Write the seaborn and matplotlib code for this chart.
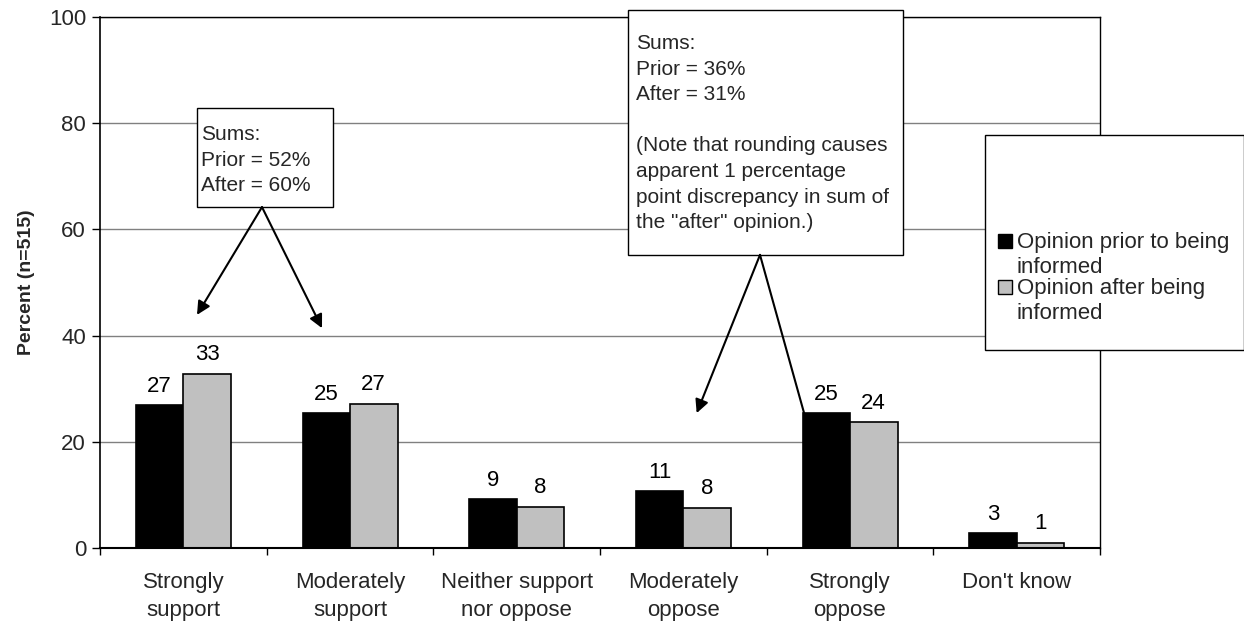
import matplotlib
matplotlib.use("Agg")
import matplotlib.pyplot as plt
import seaborn as sns
import pandas as pd
import numpy as np
from matplotlib.patches import Rectangle

categories = ["Strongly\nsupport", "Moderately\nsupport", "Neither support\nnor oppose",
              "Moderately\noppose", "Strongly\noppose", "Don't know"]
prior_vals = [26.9, 25.4, 9.2, 10.7, 25.4, 2.8]
after_vals = [32.8, 27.2, 7.8, 7.6, 23.7, 1.0]
series_names = ["Opinion prior to being\ninformed", "Opinion after being\ninformed"]
series_colors = ["#000000", "#c0c0c0"]
yticks = [0, 20, 40, 60, 80, 100]

df = pd.DataFrame({
    "category": categories * 2,
    "value": prior_vals + after_vals,
    "series": [series_names[0]] * len(categories) + [series_names[1]] * len(categories),
})

sns.set_theme(style="white")
plt.rcParams["font.family"] = ["Liberation Sans", "DejaVu Sans"]
FS = 16      # axis texts, value labels, legend
FSB = 15     # annotation boxes

W, H = 1244, 624
fig = plt.figure(figsize=(W / 100, H / 100), dpi=100)
ax = fig.add_axes([100 / W, 1 - 548 / H, 1000 / W, (548 - 17) / H])

def fx(px):
    return px / W

def fy(py):
    return 1 - py / H

sns.barplot(data=df, x="category", y="value", hue="series",
            palette=series_colors, edgecolor="black", linewidth=1.2,
            width=0.57, ax=ax, legend=False, saturation=1)

for cont in ax.containers:
    ax.bar_label(cont, fmt="%.0f", padding=6, fontsize=FS, color="black")

ax.set_ylim(0, 100)
ax.set_xlim(-0.5, len(categories) - 0.5)
ax.set_yticks(yticks)
ax.yaxis.grid(True, color="#808080", linewidth=1)
ax.set_axisbelow(True)
for s in ax.spines.values():
    s.set_visible(True)
    s.set_color("black")
    s.set_linewidth(1)
ax.spines["left"].set_linewidth(1.2)
ax.spines["bottom"].set_linewidth(1.5)
ax.tick_params(axis="y", direction="out", length=6, width=1, color="black",
               labelsize=FS, pad=4, left=True)
ax.set_xticks(np.arange(-0.5, len(categories), 1.0), minor=True)
ax.tick_params(axis="x", which="minor", direction="out", length=5, width=1,
               color="black", bottom=True)
ax.tick_params(axis="x", which="major", length=0, labelsize=FS, pad=17)
ax.set_xlabel("")
ax.set_ylabel("Percent (n=515)", fontweight="bold", fontsize=14, labelpad=10)
for lab in ax.get_xticklabels():
    lab.set_linespacing(1.45)

arrow_style = dict(arrowstyle="-|>", color="black", lw=1.5,
                   mutation_scale=20, shrinkA=0, shrinkB=0)

# annotation box 1
ax.add_patch(Rectangle((0.082, 64.2), 0.898 - 0.082, 82.9 - 64.2, facecolor="white",
                       edgecolor="black", linewidth=1, clip_on=False, zorder=5))
fig.text(fx(201), fy(125), "Sums:\nPrior = 52%\nAfter = 60%", va="top", ha="left",
         fontsize=FSB, linespacing=1.44, zorder=6)
for tgt in [(0.082, 43.9), (0.832, 41.4)]:
    ax.annotate("", xy=tgt, xytext=(0.472, 64.2), arrowprops=arrow_style,
                zorder=6, annotation_clip=False)

# annotation box 2
ax.add_patch(Rectangle((2.668, 55.2), 4.318 - 2.668, 101.3 - 55.2, facecolor="white",
                       edgecolor="black", linewidth=1, clip_on=False, zorder=5))
fig.text(fx(636), fy(34),
         "Sums:\nPrior = 36%\nAfter = 31%\n\n(Note that rounding causes\napparent 1 percentage\n"
         "point discrepancy in sum of\nthe \"after\" opinion.)",
         va="top", ha="left", fontsize=FSB, linespacing=1.44, zorder=6)
for tgt in [(3.08, 25.4), (3.808, 16.0)]:
    ax.annotate("", xy=tgt, xytext=(3.46, 55.2), arrowprops=arrow_style,
                zorder=6, annotation_clip=False)

# legend (drawn manually so the swatch sits beside the first line)
fig.patches.append(Rectangle((fx(985), fy(350)), (W - 985) / W, (350 - 135) / H,
                             transform=fig.transFigure, facecolor="white",
                             edgecolor="black", linewidth=1, zorder=10))
for name, col, cy in zip(series_names, series_colors, [241, 287]):
    fig.patches.append(Rectangle((fx(998), fy(cy + 7)), 14 / W, 14 / H,
                                 transform=fig.transFigure, facecolor=col,
                                 edgecolor="black", linewidth=1, zorder=11))
    fig.text(fx(1017), fy(cy - 9), name, va="top", ha="left", fontsize=FS,
             linespacing=1.22, zorder=12)

fig.savefig("out.png", dpi=100)
